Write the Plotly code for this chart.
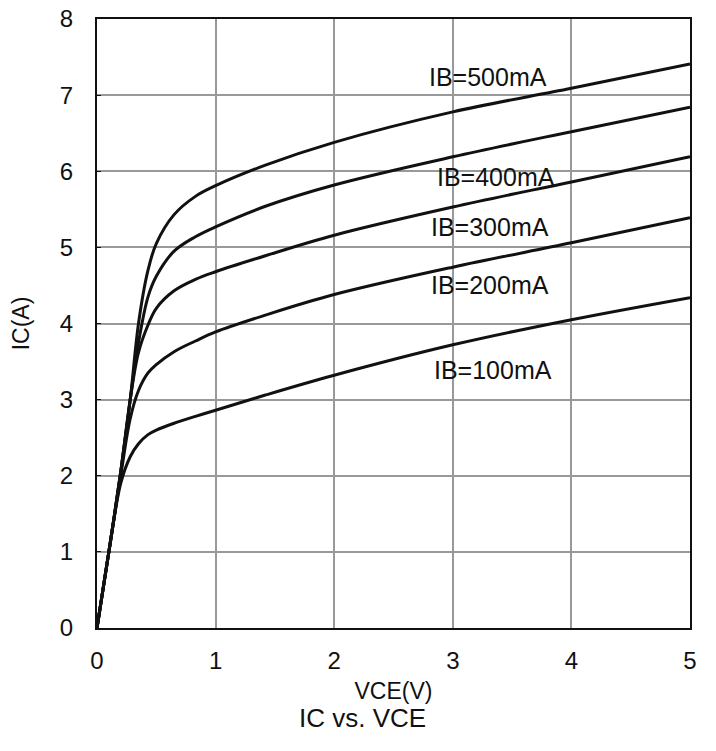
import plotly.graph_objects as go

vce = [0, 0.1, 0.2, 0.28, 0.35, 0.43, 0.5, 0.65, 0.83, 1.0, 1.42, 2, 3, 4, 5]

ic_100 = [0, 1.0, 1.9, 2.25, 2.42, 2.54, 2.60, 2.69, 2.78, 2.86, 3.06, 3.32, 3.72, 4.05, 4.34]
ic_200 = [0, 1.0, 2.0, 2.75, 3.12, 3.35, 3.46, 3.63, 3.77, 3.89, 4.11, 4.38, 4.74, 5.06, 5.39]
ic_300 = [0, 1.0, 2.05, 3.0, 3.62, 3.98, 4.2, 4.43, 4.58, 4.68, 4.89, 5.16, 5.53, 5.86, 6.19]
ic_400 = [0, 1.0, 2.05, 3.0, 3.75, 4.35, 4.62, 4.95, 5.14, 5.27, 5.54, 5.82, 6.19, 6.52, 6.84]
ic_500 = [0, 1.0, 2.05, 3.0, 4.0, 4.7, 5.05, 5.43, 5.67, 5.81, 6.08, 6.38, 6.78, 7.09, 7.41]

series = [ic_100, ic_200, ic_300, ic_400, ic_500]

label_text = ["IB=100mA", "IB=200mA", "IB=300mA", "IB=400mA", "IB=500mA"]
label_x = [3.34, 3.31, 3.31, 3.36, 3.30]
label_y = [3.39, 4.51, 5.27, 5.93, 7.24]

x_ticks = [0, 1, 2, 3, 4, 5]
y_ticks = [0, 1, 2, 3, 4, 5, 6, 7, 8]

FONT = "Liberation Sans, Arial, sans-serif"

fig = go.Figure()
for ys in series:
    fig.add_trace(go.Scatter(x=vce, y=ys, mode="lines",
                             line=dict(color="#111111", width=3, shape="spline", smoothing=1.0),
                             showlegend=False, hoverinfo="skip"))

for t, x, y in zip(label_text, label_x, label_y):
    fig.add_annotation(x=x, y=y, text=t, showarrow=False, xref="x", yref="y",
                       font=dict(family=FONT, size=25, color="#111111"))

fig.add_annotation(x=0.447, y=-0.148, xref="paper", yref="paper", text="IC vs. VCE",
                   showarrow=False, yanchor="middle",
                   font=dict(family=FONT, size=26, color="#111111"))

fig.update_xaxes(range=[0, 5], tickvals=x_ticks, showgrid=True, gridcolor="#999999", gridwidth=1.5,
                 showline=True, linecolor="#111111", linewidth=2, mirror=True, automargin=False,
                 ticks="", ticklabelstandoff=10, zeroline=False, ticklabeloverflow="allow",
                 tickfont=dict(family=FONT, size=24, color="#111111"),
                 title=dict(text="VCE(V)", standoff=10, font=dict(family=FONT, size=23, color="#111111")))
fig.update_yaxes(range=[0, 8], tickvals=y_ticks, showgrid=True, gridcolor="#999999", gridwidth=1.5,
                 showline=True, linecolor="#111111", linewidth=2, mirror=True, automargin=False,
                 ticks="inside", ticklen=4, tickcolor="#111111", ticklabelstandoff=17, zeroline=False,
                 ticklabeloverflow="allow",
                 tickfont=dict(family=FONT, size=24, color="#111111"),
                 title=dict(text="IC(A)", standoff=24, font=dict(family=FONT, size=23, color="#111111")))

fig.update_layout(width=708, height=743, margin=dict(l=89, r=26, t=11, b=123),
                  plot_bgcolor="white", paper_bgcolor="white")

fig.write_html("out.html")
